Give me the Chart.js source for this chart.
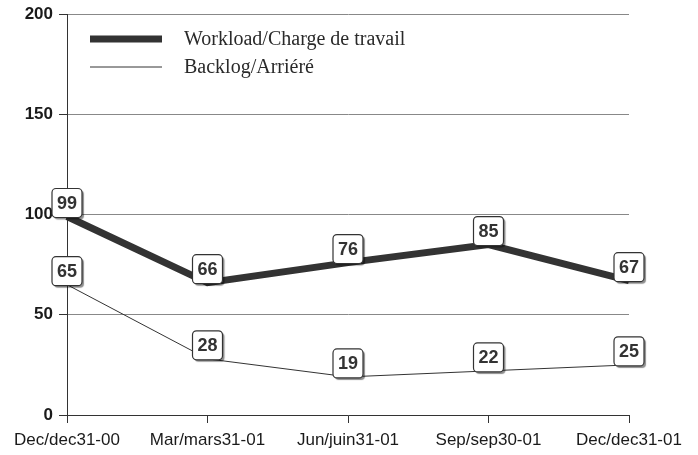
<!DOCTYPE html>
<html>
<head>
<meta charset="utf-8">
<script src="https://cdn.jsdelivr.net/npm/chart.js@4.4.0/dist/chart.umd.min.js"></script>
<style>
  html, body { margin: 0; padding: 0; background: #fff; }
  #wrap { position: relative; width: 698px; height: 455px; }
</style>
</head>
<body>
<div id="wrap"><canvas id="chart"></canvas></div>
<script>
// data
const periods = ['Dec/dec31-00', 'Mar/mars31-01', 'Jun/juin31-01', 'Sep/sep30-01', 'Dec/dec31-01'];
const workload = [99, 66, 76, 85, 67];
const backlog = [65, 28, 19, 22, 25];
const seriesNames = ['Workload/Charge de travail', 'Backlog/Arriéré'];
const yTicks = [0, 50, 100, 150, 200];

const ink = '#333333';

// boxed value labels above each point
const boxLabels = {
  id: 'boxLabels',
  afterDatasetsDraw(chart) {
    const ctx = chart.ctx;
    ctx.save();
    ctx.font = 'bold 18px "Liberation Sans", Arial, sans-serif';
    ctx.textAlign = 'center';
    ctx.textBaseline = 'middle';
    chart.data.datasets.forEach((ds, i) => {
      const meta = chart.getDatasetMeta(i);
      meta.data.forEach((pt, j) => {
        const w = 30, h = 29;
        const x = pt.x - w / 2;
        const y = pt.y - h + 1;
        ctx.shadowColor = 'rgba(0,0,0,0.45)';
        ctx.shadowOffsetX = 2;
        ctx.shadowOffsetY = 2;
        ctx.shadowBlur = 1;
        ctx.fillStyle = '#fff';
        ctx.beginPath();
        ctx.roundRect(x, y, w, h, 4);
        ctx.fill();
        ctx.shadowColor = 'transparent';
        ctx.lineWidth = 1.2;
        ctx.strokeStyle = ink;
        ctx.stroke();
        ctx.fillStyle = ink;
        ctx.fillText(String(ds.data[j]), pt.x, y + h / 2 + 1);
      });
    });
    ctx.restore();
  }
};

// legend drawn inside the plot area
const innerLegend = {
  id: 'innerLegend',
  afterDraw(chart) {
    const ctx = chart.ctx;
    ctx.save();
    ctx.font = '20px "Liberation Serif", "Times New Roman", serif';
    ctx.textBaseline = 'middle';
    ctx.fillStyle = '#2a2a2a';
    chart.data.datasets.forEach((ds, i) => {
      const y = 39 + i * 28;
      ctx.strokeStyle = ds.borderColor;
      ctx.lineWidth = ds.borderWidth;
      ctx.beginPath();
      ctx.moveTo(90, y);
      ctx.lineTo(162, y);
      ctx.stroke();
      ctx.fillText(ds.label, 184, y + 1);
    });
    ctx.restore();
  }
};

new Chart(document.getElementById('chart'), {
  type: 'line',
  data: {
    labels: periods,
    datasets: [
      {
        label: seriesNames[0],
        data: workload,
        borderColor: ink,
        borderWidth: 7,
        pointRadius: 0,
        tension: 0,
      },
      {
        label: seriesNames[1],
        data: backlog,
        borderColor: ink,
        borderWidth: 1,
        pointRadius: 0,
        tension: 0,
      },
    ],
  },
  options: {
    responsive: true,
    maintainAspectRatio: false,
    animation: false,
    layout: { padding: { top: 14, right: 69, bottom: 0, left: 0 } },
    plugins: {
      legend: { display: false },
      tooltip: { enabled: false },
    },
    scales: {
      x: {
        offset: false,
        grid: {
          drawOnChartArea: false,
          drawTicks: true,
          tickLength: 8,
          color: ink,
        },
        border: { color: ink, width: 1 },
        ticks: {
          color: '#1a1a1a',
          padding: 7,
          maxRotation: 0,
          autoSkip: false,
          font: { family: '"Liberation Sans", Arial, sans-serif', size: 17 },
        },
        afterFit: (scale) => {
          scale.height = 40;
          scale.paddingLeft = 0;
          scale.paddingRight = 0;
        },
      },
      y: {
        min: 0,
        max: 200,
        afterBuildTicks: (scale) => { scale.ticks = yTicks.map((v) => ({ value: v })); },
        grid: {
          color: '#888',
          tickLength: 8,
          tickColor: ink,
        },
        border: { color: ink, width: 1 },
        ticks: {
          color: '#1a1a1a',
          padding: 6,
          font: { family: '"Liberation Sans", Arial, sans-serif', size: 17, weight: 'bold' },
        },
        afterFit: (scale) => {
          scale.width = 67;
          scale.paddingTop = 0;
          scale.paddingBottom = 0;
        },
      },
    },
  },
  plugins: [boxLabels, innerLegend],
});
</script>
</body>
</html>
